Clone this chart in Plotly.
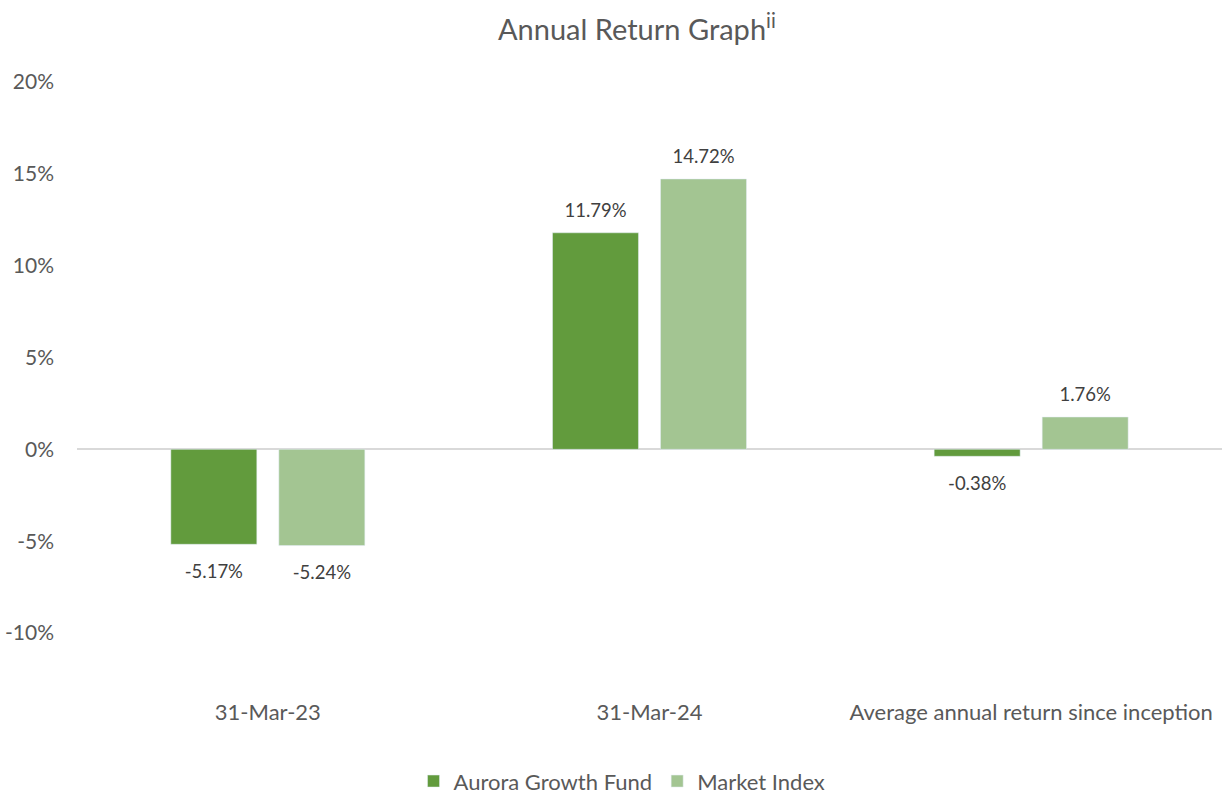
import plotly.graph_objects as go

categories = ["31-Mar-23", "31-Mar-24", "Average annual return since inception"]
fund_values = [-5.17, 11.79, -0.38]
index_values = [-5.24, 14.72, 1.76]
series_names = ["Aurora Growth Fund", "Market Index"]
series_colors = ["#629B3D", "#A3C592"]
y_ticks = [-10, -5, 0, 5, 10, 15, 20]
y_tick_labels = ["-10%", "-5%", "0%", "5%", "10%", "15%", "20%"]

FONT = "Lato"
GRAY = "#595959"
fig = go.Figure()
for name, vals, col in zip(series_names, [fund_values, index_values], series_colors):
    fig.add_trace(go.Bar(
        x=categories, y=vals, name=name, marker_color=col,
        offsetgroup=name, hoverinfo="skip",
    ))
for name, vals in zip(series_names, [fund_values, index_values]):
    fig.add_trace(go.Scatter(
        x=categories, y=vals, mode="markers+text", offsetgroup=name,
        marker=dict(size=[16 if v >= 0 else 30 for v in vals], opacity=0),
        text=[f"{v:.2f}%" for v in vals],
        textposition=["top center" if v >= 0 else "bottom center" for v in vals],
        textfont=dict(family=FONT, size=18.5, color="#404040"),
        showlegend=False, hoverinfo="skip", cliponaxis=False,
    ))

fig.update_layout(
    width=1222, height=798,
    margin=dict(l=77, r=0, t=82, b=165),
    paper_bgcolor="white", plot_bgcolor="white",
    barmode="group", bargap=0.434, bargroupgap=0.204,
    scattermode="group", scattergap=0.434,
    font=dict(family=FONT, size=22, color=GRAY),
    title=dict(text="Annual Return Graph<sup>ii</sup>", x=0.489, xref="paper",
               xanchor="center", y=0.962, yanchor="middle",
               font=dict(family=FONT, size=29, color=GRAY)),
    legend=dict(orientation="h", x=0.476, xanchor="center", xref="paper",
                y=0.021, yref="container", yanchor="middle",
                font=dict(family=FONT, size=22, color=GRAY),
                itemwidth=30, traceorder="normal"),
    showlegend=True,
)
fig.update_xaxes(showgrid=False, showline=False, ticks="", ticklabelstandoff=64,
                 tickfont=dict(family=FONT, size=22, color=GRAY))
fig.update_yaxes(range=[-10, 20], tickvals=y_ticks, ticktext=y_tick_labels,
                 showgrid=False, showline=False, zeroline=True,
                 zerolinecolor="#D9D9D9", zerolinewidth=1.5, ticks="",
                 ticklabelstandoff=22,
                 tickfont=dict(family=FONT, size=21, color=GRAY))

fig.write_html("out.html")
